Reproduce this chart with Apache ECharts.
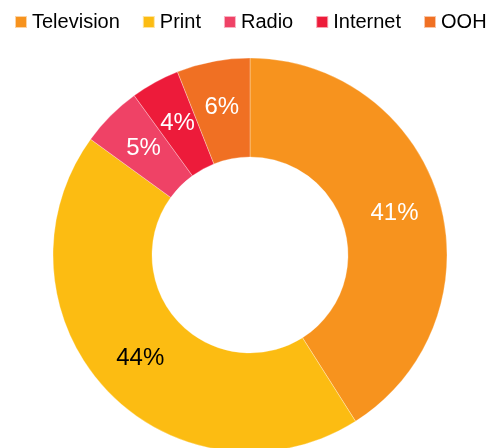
<!DOCTYPE html>
<html>
<head>
<meta charset="utf-8">
<script src="https://cdn.jsdelivr.net/npm/echarts@6/dist/echarts.min.js"></script>
<style>
  html, body { margin: 0; padding: 0; background: #fff; }
  #chart { width: 493px; height: 448px; }
</style>
</head>
<body>
<div id="chart"></div>
<script>
// Media mix share (%)
const categories = ['Television', 'Print', 'Radio', 'Internet', 'OOH'];
const shares = [41, 44, 5, 4, 6];
const colors = ['#F7931E', '#FCBC12', '#EF4266', '#ED1B3A', '#F07023'];
const labelColors = ['#ffffff', '#000000', '#ffffff', '#ffffff', '#ffffff'];

const chart = echarts.init(document.getElementById('chart'), null, { renderer: 'canvas' });

chart.setOption({
  animation: false,
  color: colors,
  legend: {
    top: 12,
    left: 14,
    width: 479,
    padding: 0,
    itemWidth: 12,
    itemHeight: 12,
    itemGap: 22,
    icon: 'rect',
    textStyle: { fontFamily: 'Liberation Sans, Arial, sans-serif', fontSize: 20, color: '#000' },
    data: categories
  },
  series: [{
    type: 'pie',
    center: [250, 255],
    radius: [98, 197],
    startAngle: 90,
    clockwise: true,
    avoidLabelOverlap: false,
    itemStyle: { borderColor: 'rgba(255,255,255,0.6)', borderWidth: 0.5 },
    label: {
      show: true,
      position: 'inside',
      fontFamily: 'Liberation Sans, Arial, sans-serif',
      fontSize: 24,
      formatter: '{c}%'
    },
    labelLine: { show: false },
    data: categories.map((name, i) => ({
      name: name,
      value: shares[i],
      label: { color: labelColors[i] }
    }))
  }]
});
</script>
</body>
</html>
